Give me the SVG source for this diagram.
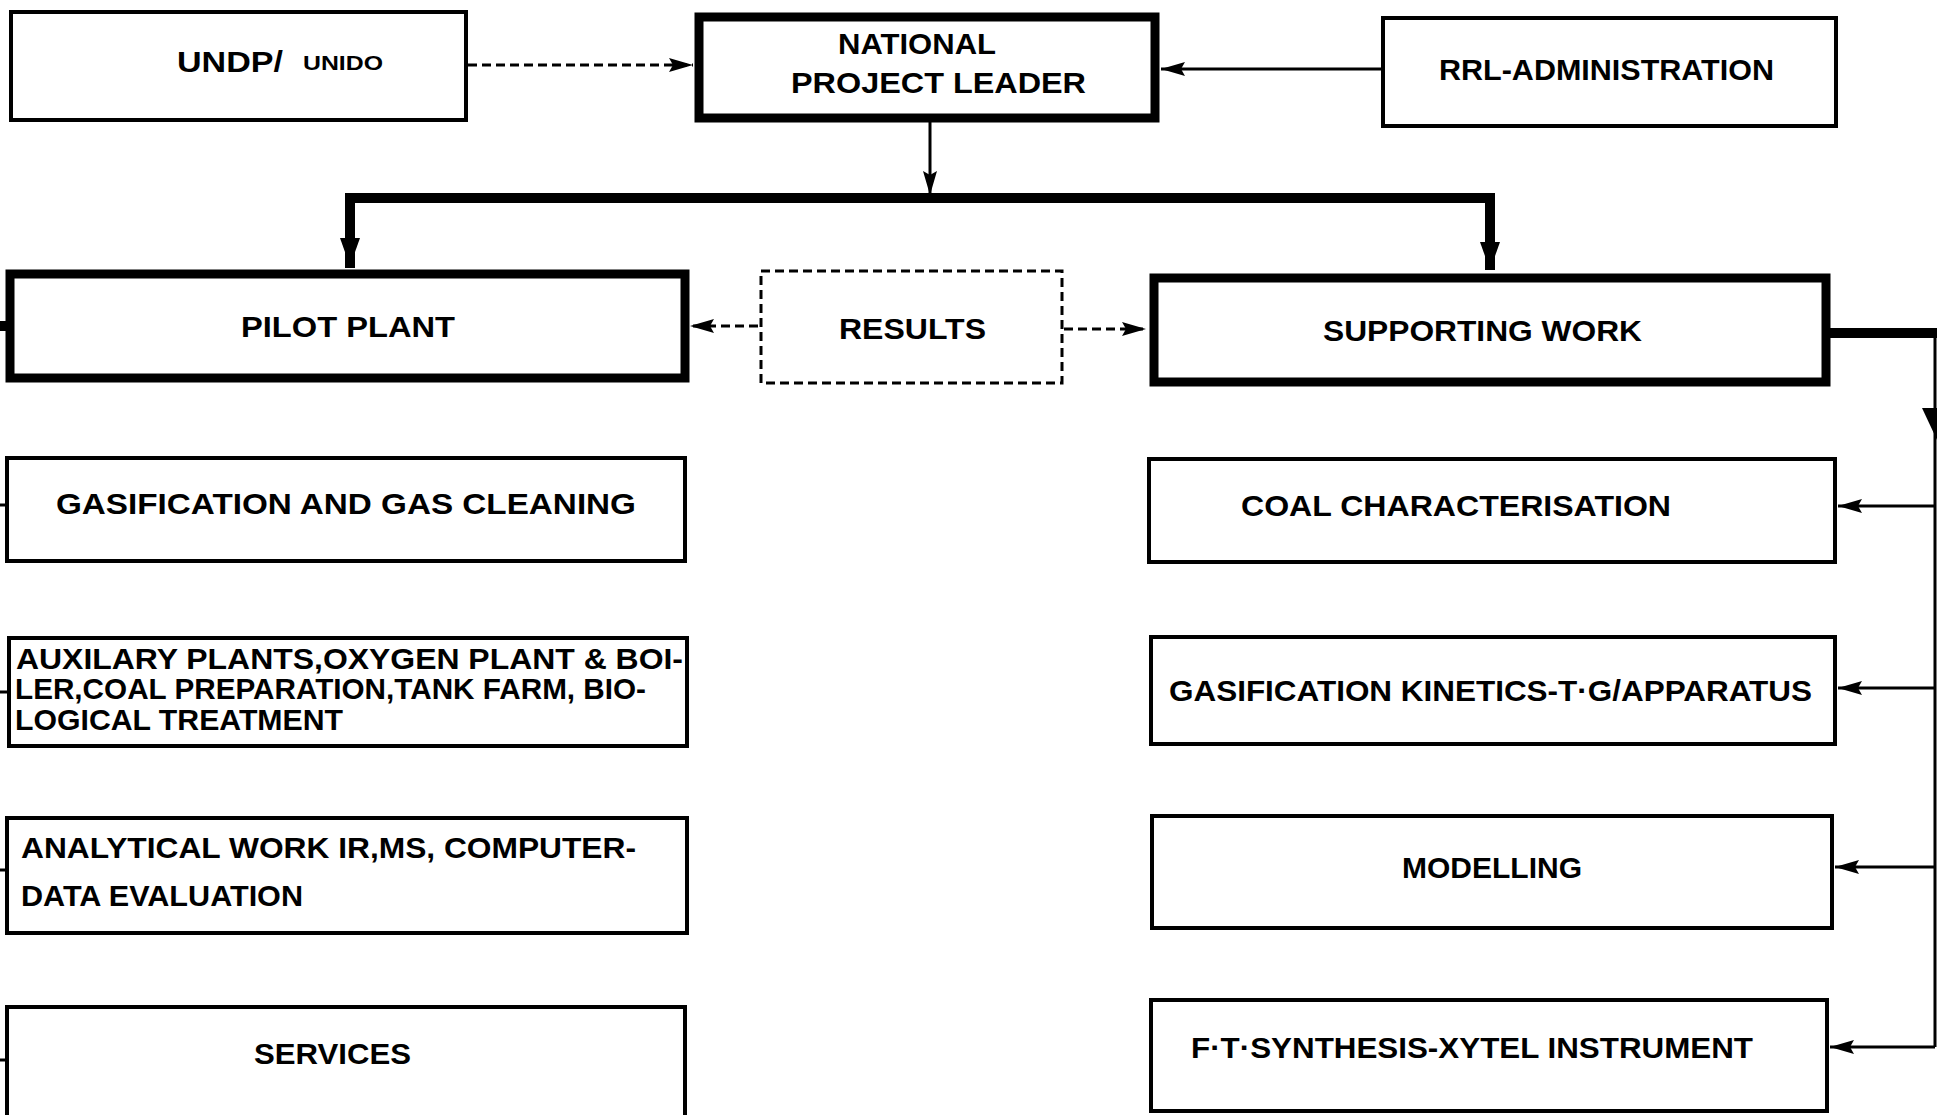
<svg xmlns="http://www.w3.org/2000/svg" width="1937" height="1115" viewBox="0 0 1937 1115">
<style>
.box{fill:#fff;stroke:#000;stroke-width:4}
.thick{fill:#fff;stroke:#000;stroke-width:9}
.dash{fill:#fff;stroke:#000;stroke-width:3;stroke-dasharray:9 5}
.t{font-family:"Liberation Sans",Arial,sans-serif;font-weight:bold;font-size:30px;fill:#000}
.ln{fill:none;stroke:#000;stroke-width:3}
.lnd{fill:none;stroke:#000;stroke-width:3;stroke-dasharray:9 5}
.lnt{fill:none;stroke:#000;stroke-width:10}
</style>
<defs>
<marker id="ah" markerUnits="userSpaceOnUse" markerWidth="24" markerHeight="14" refX="24" refY="7" orient="auto">
<path d="M0,0 L24,7 L0,14 L4,7 z" fill="#000"/>
</marker>
<marker id="ahb" markerUnits="userSpaceOnUse" markerWidth="28" markerHeight="20" refX="28" refY="10" orient="auto">
<path d="M0,0 L28,10 L0,20 z" fill="#000"/>
</marker>
</defs>
<rect width="1937" height="1115" fill="#fff"/>
<g id="connectors">
<line class="lnd" x1="468" y1="65" x2="693" y2="65" marker-end="url(#ah)"/>
<line class="ln" x1="1382" y1="69" x2="1161" y2="69" marker-end="url(#ah)"/>
<line class="ln" x1="930" y1="122" x2="930" y2="195" marker-end="url(#ah)"/>
<polyline class="lnt" points="350,268 350,198 1490,198 1490,270"/>
<line class="lnt" x1="350" y1="230" x2="350" y2="266" marker-end="url(#ahb)"/>
<line class="lnt" x1="1490" y1="230" x2="1490" y2="270" marker-end="url(#ahb)"/>
<line class="lnd" x1="758" y1="326" x2="690" y2="326" marker-end="url(#ah)"/>
<line class="lnd" x1="1064" y1="329" x2="1146" y2="329" marker-end="url(#ah)"/>
<line class="lnt" x1="1828" y1="333" x2="1937" y2="333"/>
<line class="ln" x1="1935" y1="333" x2="1935" y2="1047"/>
<path d="M1922,408 L1937,408 L1937,440 z" fill="#000"/>
<line class="ln" x1="1935" y1="506" x2="1838" y2="506" marker-end="url(#ah)"/>
<line class="ln" x1="1935" y1="688" x2="1838" y2="688" marker-end="url(#ah)"/>
<line class="ln" x1="1935" y1="867" x2="1835" y2="867" marker-end="url(#ah)"/>
<line class="ln" x1="1935" y1="1047" x2="1830" y2="1047" marker-end="url(#ah)"/>
<line class="lnt" x1="0" y1="326" x2="8" y2="326"/>
<line class="ln" x1="0" y1="505" x2="6" y2="505"/>
<line class="ln" x1="0" y1="692" x2="8" y2="692"/>
<line class="ln" x1="0" y1="870" x2="6" y2="870"/>
<line class="ln" x1="0" y1="1060" x2="6" y2="1060"/>
</g>
<g id="undp">
<rect class="box" x="11" y="12" width="455" height="108"/>
<text class="t" x="177" y="72" textLength="106" lengthAdjust="spacingAndGlyphs">UNDP/</text>
<text class="t" x="303" y="70" style="font-size:21px" textLength="80" lengthAdjust="spacingAndGlyphs">UNIDO</text>
</g>
<g id="npl">
<rect class="thick" x="699" y="17" width="456" height="101"/>
<text class="t" x="838" y="54" textLength="158" lengthAdjust="spacingAndGlyphs">NATIONAL</text>
<text class="t" x="791" y="93" textLength="295" lengthAdjust="spacingAndGlyphs">PROJECT LEADER</text>
</g>
<g id="rrl">
<rect class="box" x="1383" y="18" width="453" height="108"/>
<text class="t" x="1439" y="80" textLength="335" lengthAdjust="spacingAndGlyphs">RRL-ADMINISTRATION</text>
</g>
<g id="pilot">
<rect class="thick" x="10" y="274" width="675" height="104"/>
<text class="t" x="241" y="337" textLength="214" lengthAdjust="spacingAndGlyphs">PILOT PLANT</text>
</g>
<g id="results">
<rect class="dash" x="761" y="271" width="301" height="112"/>
<text class="t" x="839" y="339" textLength="147" lengthAdjust="spacingAndGlyphs">RESULTS</text>
</g>
<g id="supporting">
<rect class="thick" x="1154" y="278" width="672" height="104"/>
<text class="t" x="1323" y="341" textLength="319" lengthAdjust="spacingAndGlyphs">SUPPORTING WORK</text>
</g>
<g id="gascleaning">
<rect class="box" x="7" y="458" width="678" height="103"/>
<text class="t" x="56" y="514" textLength="580" lengthAdjust="spacingAndGlyphs">GASIFICATION AND GAS CLEANING</text>
</g>
<g id="auxilary">
<rect class="box" x="9" y="638" width="678" height="108"/>
<text class="t" x="16" y="669" textLength="667" lengthAdjust="spacingAndGlyphs">AUXILARY PLANTS,OXYGEN PLANT &amp; BOI-</text>
<text class="t" x="15" y="699" textLength="631" lengthAdjust="spacingAndGlyphs">LER,COAL PREPARATION,TANK FARM, BIO-</text>
<text class="t" x="15" y="730" textLength="328" lengthAdjust="spacingAndGlyphs">LOGICAL TREATMENT</text>
</g>
<g id="analytical">
<rect class="box" x="7" y="818" width="680" height="115"/>
<text class="t" x="21" y="858" textLength="615" lengthAdjust="spacingAndGlyphs">ANALYTICAL WORK IR,MS, COMPUTER-</text>
<text class="t" x="21" y="906" textLength="282" lengthAdjust="spacingAndGlyphs">DATA EVALUATION</text>
</g>
<g id="services">
<rect class="box" x="7" y="1007" width="678" height="112"/>
<text class="t" x="254" y="1064" textLength="157" lengthAdjust="spacingAndGlyphs">SERVICES</text>
</g>
<g id="coal">
<rect class="box" x="1149" y="459" width="686" height="103"/>
<text class="t" x="1241" y="516" textLength="430" lengthAdjust="spacingAndGlyphs">COAL CHARACTERISATION</text>
</g>
<g id="kinetics">
<rect class="box" x="1151" y="637" width="684" height="107"/>
<text class="t" x="1169" y="701" textLength="643" lengthAdjust="spacingAndGlyphs">GASIFICATION KINETICS-T·G/APPARATUS</text>
</g>
<g id="modelling">
<rect class="box" x="1152" y="816" width="680" height="112"/>
<text class="t" x="1402" y="878" textLength="180" lengthAdjust="spacingAndGlyphs">MODELLING</text>
</g>
<g id="ftsynthesis">
<rect class="box" x="1151" y="1000" width="676" height="111"/>
<text class="t" x="1191" y="1058" textLength="562" lengthAdjust="spacingAndGlyphs">F·T·SYNTHESIS-XYTEL INSTRUMENT</text>
</g>
</svg>
